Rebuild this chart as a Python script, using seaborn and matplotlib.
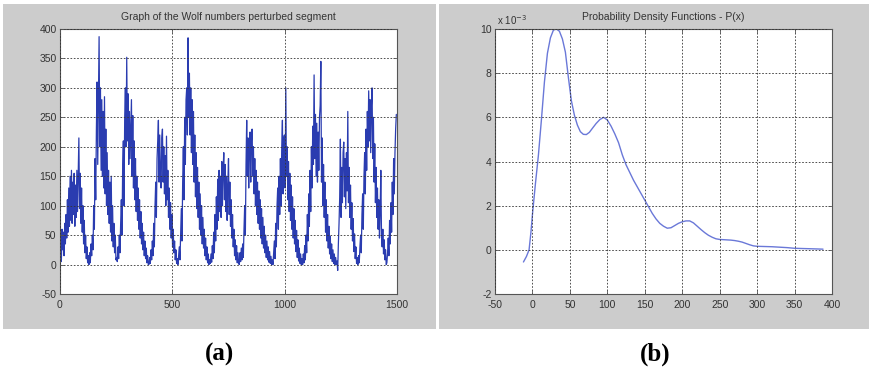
import numpy as np
import pandas as pd
import matplotlib
matplotlib.use("Agg")
import matplotlib.pyplot as plt
from matplotlib.patches import Rectangle
import seaborn as sns

# ---------------- data: Wolf numbers perturbed segment (sampled every 3rd point) -------------
c01 = [20,50,5,60,25,55,15,70,35,85,45,110,55,130,65,150,75,160,70,140,85,155,65,135,80,
       160,90,150,215,95,155,70,130,55,100,35,75,20,50,10,30,3,15]
c02 = [0,20,3,35,15,50,25,100,60,180,110,230,310,170,280,387,200,300,160,280,150,260,130,285,120,
       230,100,190,85,160,70,140,55,150,40,100,30,70,20,50,8,12]
c03 = [5,30,10,50,20,70,110,50,170,210,100,250,300,200,352,210,290,170,260,180,230,280,150,253,130,
       210,110,180,90,150,75,130,60,110,45,90,35,70,25,55,15,40,10,28,3,15,0]
c04 = [0,12,2,25,8,40,15,70,30,100,140,80,180,210,245,140,220,150,130,215,230,140,200,120,185,
       100,218,110,160,80,130,60,105,45,85,30,60,20,40,8,25,2,10]
c05 = [0,15,30,8,55,95,40,140,200,110,250,170,280,300,220,385,250,325,220,300,190,280,170,260,140,
       220,115,190,95,165,80,140,60,120,50,100,35,80,28,60,15,45,8,30,3,18,0,8]
c06 = [2,18,4,32,10,55,20,85,40,115,60,145,75,160,90,150,80,175,100,160,190,110,170,90,150,
       75,135,180,85,140,65,110,45,85,30,60,15,42,8,32,3,20,2]
c07 = [0,20,5,28,8,35,12,60,100,50,170,245,150,215,130,200,225,140,210,230,150,200,120,180,100,
       160,85,140,70,125,60,110,45,95,35,80,28,65,20,50,12,40,8,30,4,22,2,14,0,8]
c08 = [0,20,40,10,70,30,100,130,60,150,85,180,100,200,245,120,215,220,130,300,150,200,110,175,90,
       155,75,135,60,115,45,95,35,75,22,58,12,42,6,28,2,18,0,10]
c09 = [0,18,3,32,8,50,20,85,40,120,65,160,90,200,130,235,170,322,180,255,150,240,140,225,160,
       250,270,345,140,215,100,170,80,140,55,110,40,85,28,65,18,48,10,35,5,25,2,18,0,12,0,6]
c10 = [-10,35,70,115,213,80,165,105,190,208,115,180,95,190,125,260,105,165,80,135,60,105,40,78,22,
       52,10,30,2,12]
c11 = [0,15,3,30,50,20,85,120,60,150,190,120,230,160,260,200,295,210,280,190,270,300,180,250,140,
       205,105,165,80,130,60,110,45,90,160,50,30,60,18,42,8,25,0]
c12 = [3,20,45,15,75,35,105,55,140,85,180,120,190,230,255]

wolf = c01 + c02 + c03 + c04 + c05 + c06 + c07 + c08 + c09 + c10 + c11 + c12
sample_step = 3
wolf_idx = np.arange(len(wolf)) * sample_step

# ---------------- data: probability density function (values in units of 1e-3) -------------
pdf_x = [-12, -8, -4.5, -2, 0, 2, 4, 8, 12, 16, 20, 24, 28, 32, 36, 40, 44, 48, 52, 56, 60, 64, 68,
         72, 76, 80, 85, 90, 95, 100, 105, 110, 115, 120, 125, 130, 135, 140, 145, 150, 155, 160,
         165, 170, 175, 180, 185, 190, 195, 200, 205, 210, 215, 220, 225, 230, 235, 240, 245, 250,
         255, 260, 265, 270, 275, 280, 285, 290, 295, 300, 310, 320, 330, 340, 350, 360, 370, 380, 388]
pdf_y = [-0.55, -0.3, 0.0, 0.8, 1.6, 2.3, 3.0, 4.3, 5.9, 7.6, 8.9, 9.6, 9.95, 10.0, 9.9, 9.55, 8.95,
         7.8, 6.75, 6.1, 5.65, 5.35, 5.23, 5.22, 5.32, 5.5, 5.72, 5.9, 6.0, 5.88, 5.6, 5.25, 4.85,
         4.3, 3.85, 3.5, 3.15, 2.85, 2.55, 2.25, 1.95, 1.65, 1.4, 1.2, 1.07, 0.98, 1.0, 1.1, 1.2,
         1.27, 1.31, 1.31, 1.22, 1.07, 0.92, 0.78, 0.66, 0.57, 0.5, 0.47, 0.46, 0.45, 0.44, 0.42,
         0.39, 0.35, 0.29, 0.23, 0.18, 0.16, 0.15, 0.14, 0.12, 0.1, 0.07, 0.06, 0.05, 0.04, 0.03]

left_xticks = [0, 500, 1000, 1500]
left_yticks = [-50, 0, 50, 100, 150, 200, 250, 300, 350, 400]
right_xticks = [-50, 0, 50, 100, 150, 200, 250, 300, 350, 400]
right_yticks = [-2, 0, 2, 4, 6, 8, 10]

title_a = "Graph of the Wolf numbers perturbed segment"
title_b = "Probability Density Functions - P(x)"

df_w = pd.DataFrame({"n": wolf_idx, "wolf": wolf})
df_p = pd.DataFrame({"x": pdf_x, "p": pdf_y})

# ---------------- figure ----------------
sns.set_style("white")
plt.rcParams["font.family"] = ["Liberation Sans", "DejaVu Sans"]
plt.rcParams["axes.unicode_minus"] = False

W, H = 869, 369
fig = plt.figure(figsize=(W / 100, H / 100), dpi=100)
fig.patch.set_facecolor("white")

gray = "#cccccc"
def fx(px): return px / W
def fy(py): return 1 - py / H

fig.patches.append(Rectangle((fx(3), fy(329)), fx(436) - fx(3), fy(4) - fy(329),
                             transform=fig.transFigure, facecolor=gray, edgecolor="none", zorder=-5))
fig.patches.append(Rectangle((fx(439), fy(329)), fx(869) - fx(439), fy(4) - fy(329),
                             transform=fig.transFigure, facecolor=gray, edgecolor="none", zorder=-5))

ax1 = fig.add_axes([fx(60), fy(294), fx(397) - fx(60), fy(29) - fy(294)])
ax2 = fig.add_axes([fx(495), fy(294), fx(832) - fx(495), fy(29) - fy(294)])

sns.lineplot(data=df_w, x="n", y="wolf", ax=ax1, color="#2a3cb0", linewidth=0.9,
             estimator=None, sort=False)
sns.lineplot(data=df_p, x="x", y="p", ax=ax2, color="#6a78d8", linewidth=1.0,
             estimator=None, sort=False)

def style(ax, xt, yt, xl, yl):
    ax.set_facecolor("white")
    ax.set_xlim(*xl)
    ax.set_ylim(*yl)
    ax.set_xticks(xt)
    ax.set_yticks(yt)
    ax.set_xlabel("")
    ax.set_ylabel("")
    ax.grid(True, color="#333333", linestyle=(0, (2, 2)), linewidth=0.6)
    ax.set_axisbelow(False)
    for s in ax.spines.values():
        s.set_visible(True)
        s.set_color("#555555")
        s.set_linewidth(0.8)
    ax.tick_params(direction="in", length=3, width=0.6, colors="#555555",
                   labelcolor="#333333", labelsize=7.5, top=True, right=True,
                   bottom=True, left=True)
    ax.tick_params(axis="x", pad=4)
    ax.tick_params(axis="y", pad=2.5)

style(ax1, left_xticks, left_yticks, (0, 1500), (-50, 400))
style(ax2, right_xticks, right_yticks, (-50, 400), (-2, 10))
ax1.set_yticklabels([str(v) for v in left_yticks])
ax2.set_yticklabels([str(v) for v in right_yticks])
ax2.set_xticklabels([str(v) for v in right_xticks])

ax1.text(0.5, 1 + 12 / 265, title_a, transform=ax1.transAxes, ha="center", va="center",
         fontsize=7.5, color="#333333")
ax2.text(0.5, 1 + 12 / 265, title_b, transform=ax2.transAxes, ha="center", va="center",
         fontsize=7.5, color="#333333")
ax2.text(0.005, 1 + 9 / 265, "x 10$^{-3}$", transform=ax2.transAxes, ha="left", va="center",
         fontsize=7, color="#333333")

fig.text(fx(219), fy(354), "(a)", ha="center", va="center", fontsize=18, color="black",
         fontweight="bold", family=["Liberation Serif", "DejaVu Serif"])
fig.text(fx(655), fy(354), "(b)", ha="center", va="center", fontsize=18, color="black",
         fontweight="bold", family=["Liberation Serif", "DejaVu Serif"])

fig.savefig("out.png", dpi=100, facecolor="white")
